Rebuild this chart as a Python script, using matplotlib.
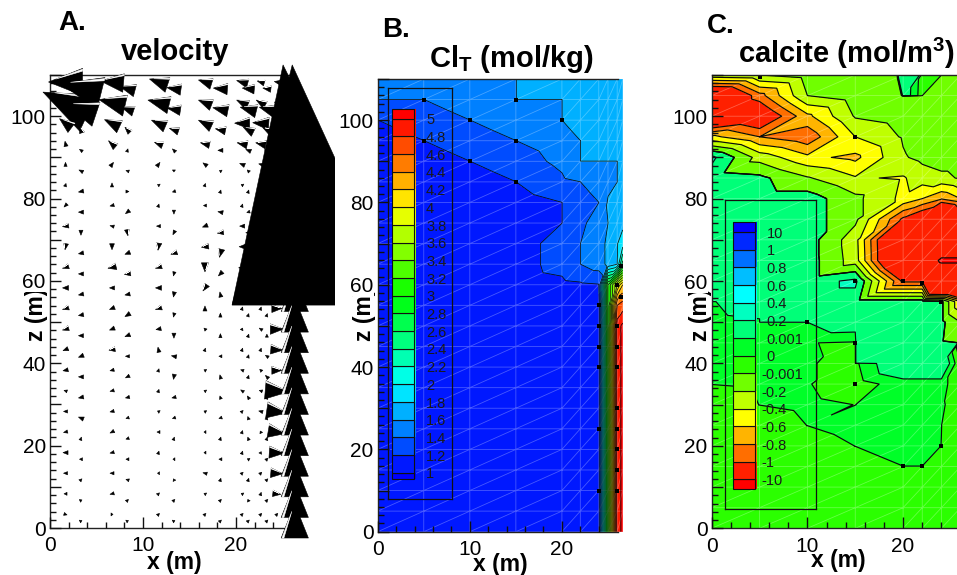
import matplotlib
matplotlib.use('Agg')
import matplotlib.pyplot as plt
import matplotlib.tri as mtri
import numpy as np

from matplotlib.collections import PolyCollection
from matplotlib.colors import BoundaryNorm, LinearSegmentedColormap, ListedColormap
from matplotlib.patches import Rectangle
from matplotlib.ticker import FixedLocator, FuncFormatter, NullLocator

plt.rcParams['font.family'] = ['Liberation Sans', 'DejaVu Sans']
plt.rcParams['mathtext.fontset'] = 'custom'
plt.rcParams['mathtext.bf'] = 'Liberation Sans:bold'
plt.rcParams['mathtext.rm'] = 'Liberation Sans'

W, H = 957, 575

# ---- panel A: arrows, two staggered sets of mesh centroids
xa = [1.67, 6.67, 11.67, 16.67, 20.67, 22.67]
za = [108.3, 103.3, 98.3, 93.3, 88.3, 83.3, 78.3, 73.3, 68.3, 63.3, 58.3,
      53.3, 48.3, 43.3, 38.3, 33.3, 28.3, 23.3, 18.3, 13.3, 8.3, 3.3]
ua = [[-34, -23, -18, -13, -11, -7], [-45, -26, -21, -13, -11, -9], [-12, -15, -14, -13, -15, -16],
      [-1, -7, -8, -9, -10, -10], [0, 3, 3, -4, -5, -4], [1, 0, -2, 1, -2, 0],
      [-3, -4, 1, -3, 1, 1], [-6, -4, -4, -5, -5, -3], [-1, 0, -1, -7, -6, -4],
      [-6, -8, -6, 0, -7, -5], [-6, -5, -6, -4, -5, -4], [-6, -5, -6, 0, 1, 1],
      [-6, -5, -5, -2, 1, -3], [-5, -6, -1, 1, 1, 1], [-5, -4, 1, -2, -3, -2],
      [-3, -4, 1, -2, -3, -3], [-4, -4, -2, -2, 2, -4], [-4, -4, -3, -2, 1, -1],
      [-5, -4, 1, -2, 1, 1], [-4, -4, -2, -4, 2, 2], [-3, -4, 2, -2, -2, 1], [3, 2, 2, 2, 2, 2]]
wa = [[0, 2, 6, 4, 3, 2], [21, 6, 5, 5, 5, 5], [9, 7, 6, 6, 0, 1],
      [5, 6, 3, 2, 2, 2], [4, 4, 4, 3, 2, 1], [3, 4, 1, 3, 1, 2],
      [-3, -1, 3, 0, 3, 2], [-1, 1, 0, -2, 0, 0], [-6, -6, -7, -1, 0, 0],
      [-2, -2, -2, -9, -1, 0], [0, 0, 0, -6, 0, 0], [-2, -2, -2, 5, 3, 3],
      [-2, -2, -1, 2, 2, 2], [-2, -1, 5, 3, 3, 3], [-1, -1, 3, 1, 1, 2],
      [1, -1, 3, 1, 2, 1], [0, -1, 1, 1, 2, 1], [-1, -2, 0, 0, 3, 2],
      [0, -1, 3, 0, 3, 2], [0, 0, 0, 1, 2, 2], [0, -1, 2, 1, 1, 3], [-1, 0, 2, 2, 2, 2]]

xb = [3.33, 8.33, 13.33, 18.33, 21.33, 23.33]
zb = [106.7, 101.7, 96.7, 91.7, 86.7, 81.7, 76.7, 71.7, 66.7, 61.7, 56.7,
      51.7, 46.7, 41.7, 36.7, 31.7, 26.7, 21.7, 16.7, 11.7, 6.7, 1.7]
ub = [[-40, -15, -14, -14, -12, -8], [-30, -12, -13, -15, -16, -15], [-2, -5, -9, -10, -10, -8],
      [-3, 1, -3, -5, -5, -5], [-4, -3, 0, -2, -2, -3], [-5, 3, -3, 1, 1, 1],
      [-5, -4, 0, -5, -3, -3], [0, 1, -2, -6, -5, -4], [-5, -5, -6, -2, -6, -5],
      [-5, -6, -1, -4, -5, -5], [-5, -5, -1, -1, -2, -1], [-5, -5, -1, 0, 1, 1],
      [-5, -5, 0, 0, 1, 0], [-5, -4, -5, -3, 1, -3], [-5, -4, -1, -1, 1, -3],
      [-5, -4, -4, -1, -2, 1], [-5, -3, -3, -3, -1, 1], [1, -3, 1, 1, -1, 1],
      [-3, -3, -2, -3, -2, 2], [2, -3, -1, 1, 1, 2], [2, 2, 2, 2, -1, 2], [2, 2, 2, 2, 2, 2]]
wb = [[10, 4, 2, 1, 1, 1], [10, 4, 2, 3, 4, 4], [6, 5, 3, 2, 5, 4],
      [2, 3, 3, 0, 2, 1], [2, 1, -2, 1, 2, 1], [-1, 0, -1, 3, 3, 2],
      [0, -3, -4, 1, -1, 0], [-5, -6, -4, -1, 0, 0], [-1, -2, -2, -8, -2, 0],
      [0, -1, -4, -4, 0, 0], [-1, -1, -5, 5, 2, 2], [-1, -3, -4, 4, 3, 3],
      [0, -2, -5, 4, 3, 3], [-2, 0, 1, 0, 3, 2], [0, -2, -5, 4, 3, 3],
      [-1, -1, -1, 3, 3, 3], [2, -1, -1, -1, 3, 3], [3, -1, 3, 3, 3, 3],
      [0, 0, 0, 0, 1, 2], [2, 1, 2, 3, 3, 2], [1, 2, 2, 2, 2, 2], [1, 1, 1, 2, 2, 2]]

# inflow at the right hand side
x_side = 24.4
u_side = [-5, -5, -5, -5, -5, -5, -5, -5, -5, -5, -5, 10, 13, 12, 10, 23, 20, 17, 15, 12, 8, 2]
w_side = [1, 1, 1, 1, 1, 1, 1, 1, 1, 1, 1, 0, 0, -1, 0, -2, -3, -3, -1, -1, -1, 2]
x_main = 26.33
u_main = [0, 0, 0, 0, 0, 0, 0, 0, 0, 0, 0, 0, 0, 0, 0, 0, 0, 0, 0, 0, 0, 0]
w_main = [30, 30, 30, 30, 40, 40, 40, 40, 40, 40, 34, 34, 34, 34, 34, 34, 34, 34, 34, 34, 34, 34]
x_big = [26.9, 27.4]
z_big = [83.3, 83.3]
u_big = [-34, -25]
w_big = [240, 240]
hw_big = 85

# ---- ticks, same on all three panels
x_major = [0, 10, 20]
x_minor = [2, 4, 6, 8, 12, 14, 16, 18, 22, 24]
z_major = [0, 10, 20, 30, 40, 50, 60, 70, 80, 90, 100, 110]
z_minor = [2, 4, 6, 8, 12, 14, 16, 18, 22, 24, 26, 28, 32, 34, 36, 38, 42, 44, 46, 48, 52, 54, 56, 58,
           62, 64, 66, 68, 72, 74, 76, 78, 82, 84, 86, 88, 92, 94, 96, 98, 102, 104, 106, 108]

# ---- panel B: Cl_T at the mesh nodes
x_cl = [0, 5, 10, 15, 20, 22, 24, 25, 26, 26.6]
z_nodes = [110, 105, 100, 95, 90, 85, 80, 75, 70, 65, 60, 55, 50, 45, 40, 35, 30, 25, 20, 15, 10, 5, 0]
cl = [[1.45, 1.5, 1.55, 1.599, 1.7, 1.72, 1.72, 1.72, 1.72, 1.72],
      [1.399, 1.399, 1.5, 1.599, 1.599, 1.7, 1.7, 1.7, 1.7, 1.7],
      [1.199, 1.3, 1.399, 1.5, 1.599, 1.7, 1.7, 1.7, 1.7, 1.7],
      [1.1, 1.199, 1.3, 1.399, 1.5, 1.599, 1.7, 1.7, 1.7, 1.7],
      [1.08, 1.1, 1.199, 1.3, 1.45, 1.599, 1.599, 1.599, 1.599, 1.7],
      [1.05, 1.08, 1.1, 1.199, 1.36, 1.399, 1.5, 1.55, 1.599, 1.7],
      [1.05, 1.05, 1.08, 1.1, 1.199, 1.3, 1.399, 1.62, 1.7, 1.75],
      [1.05, 1.05, 1.05, 1.1, 1.199, 1.35, 1.5, 1.599, 1.7, 1.75],
      [1.05, 1.05, 1.05, 1.12, 1.27, 1.399, 1.5, 1.65, 1.79, 1.9],
      [1.05, 1.05, 1.05, 1.12, 1.27, 1.399, 1.5, 1.65, 1.8, 2.5],
      [1.05, 1.05, 1.05, 1.1, 1.15, 1.17, 1.19, 3.0, 3.8, 4.2],
      [1.05, 1.05, 1.05, 1.05, 1.08, 1.1, 1.1, 3.0, 4.6, 4.7],
      [1.05, 1.05, 1.05, 1.05, 1.05, 1.08, 1.1, 3.0, 4.9, 5.05],
      [1.05, 1.05, 1.05, 1.05, 1.05, 1.08, 1.1, 3.0, 4.9, 5.05],
      [1.05, 1.05, 1.05, 1.05, 1.05, 1.08, 1.1, 3.0, 4.9, 5.05],
      [1.05, 1.05, 1.05, 1.05, 1.05, 1.08, 1.1, 3.0, 4.9, 5.05],
      [1.05, 1.05, 1.05, 1.05, 1.05, 1.08, 1.1, 3.0, 4.9, 5.05],
      [1.05, 1.05, 1.05, 1.05, 1.05, 1.08, 1.1, 3.0, 4.9, 5.05],
      [1.05, 1.05, 1.05, 1.05, 1.05, 1.08, 1.1, 3.0, 4.9, 5.05],
      [1.05, 1.05, 1.05, 1.05, 1.05, 1.08, 1.1, 3.0, 4.9, 5.05],
      [1.05, 1.05, 1.05, 1.05, 1.05, 1.08, 1.1, 3.0, 4.9, 5.05],
      [1.05, 1.05, 1.05, 1.05, 1.05, 1.08, 1.1, 3.0, 4.9, 5.05],
      [1.05, 1.05, 1.05, 1.05, 1.05, 1.08, 1.1, 3.0, 4.9, 5.05]]
cl_levels = [1, 1.2, 1.4, 1.6, 1.8, 2, 2.2, 2.4, 2.6, 2.8, 3, 3.2, 3.4, 3.6, 3.8, 4, 4.2, 4.4, 4.6, 4.8, 5]
cl_labels = ['1', '1.2', '1.4', '1.6', '1.8', '2', '2.2', '2.4', '2.6', '2.8', '3',
             '3.2', '3.4', '3.6', '3.8', '4', '4.2', '4.4', '4.6', '4.8', '5']
cl_mark_x = [5, 10, 15, 15, 20, 5, 10, 15, 26.4, 26, 26.4, 26, 26, 26, 26, 26, 26, 26, 26, 24, 24, 24, 24, 24, 24]
cl_mark_z = [105, 100, 95, 105, 100, 95, 90, 85, 64.5, 60, 57, 50, 45, 40, 30, 25, 20, 15, 10, 55, 50, 45, 40, 25, 10]

# ---- panel C: calcite at the mesh nodes
x_ca = [0, 5, 10, 15, 20, 22, 24, 26]
ca = [[-0.25, -0.2, -0.1, -0.08, 0.01, -0.0005, -0.0005, -0.002],
      [-1.6, -0.88, -0.2, -0.08, 0.002, -0.0006, -0.1, -0.1],
      [-1.6, -1.3, -0.65, -0.18, -0.1, -0.1, -0.1, -0.1],
      [-0.55, -0.8, -0.95, -0.4, -0.18, -0.1, -0.1, -0.1],
      [0.25, -0.28, -0.55, -0.65, -0.22, -0.15, -0.1, -0.1],
      [0.1, 0.05, -0.18, -0.38, -0.42, -0.3, -0.25, -0.18],
      [0.1, 0.1, 0.1, -0.15, -0.45, -0.6, -0.78, -0.6],
      [0.1, 0.1, 0.1, -0.15, -1.05, -1.3, -2, -1.3],
      [0.1, 0.1, 0.1, -0.32, -1.8, -2, -3, -3],
      [0.1, 0.1, 0.1, -0.3, -1.8, -5, -11, -11],
      [0.1, 0.1, 0.1, 0.25, -1.05, -1.05, -3, -3],
      [0.0009, 0.002, 0.1, 0.1, 0.1, 0.1, 0.05, -0.6],
      [0.0005, 0.0008, 0.001, 0.002, 0.1, 0.1, 0.05, -0.2],
      [0.0005, 0.0005, 0.00003, -0.0001, 0.1, 0.1, 0.02, -0.002],
      [0.0005, 0.0005, 0.00005, -0.0002, 0.0025, 0.0025, 0.0025, -0.001],
      [0.00001, 0.0001, 0.00005, -0.0005, 0.0005, 0.0005, 0.0005, -0.001],
      [-0.0005, 0.00001, 0.0002, -0.00001, 0.0005, 0.0005, 0.0002, -0.0008],
      [-0.0005, -0.0005, 0.00001, 0.0004, 0.0005, 0.0005, 0.00001, -0.0007],
      [-0.0005, -0.0005, -0.0005, 0.00001, 0.0005, 0.0005, -0.00001, -0.0006],
      [-0.0005, -0.0005, -0.0005, -0.0005, -0.00001, -0.00001, -0.00001, -0.0006],
      [-0.0005, -0.0005, -0.0005, -0.0005, -0.0005, -0.0005, -0.0005, -0.0005],
      [-0.0005, -0.0005, -0.0005, -0.0005, -0.0005, -0.0005, -0.0005, -0.0005],
      [-0.0005, -0.0005, -0.0005, -0.0005, -0.0005, -0.0005, -0.0005, -0.0005]]
ca_levels = [-10, -1, -0.8, -0.6, -0.4, -0.2, -0.001, 0, 0.001, 0.2, 0.4, 0.6, 0.8, 1, 10]
ca_labels = ['-10', '-1', '-0.8', '-0.6', '-0.4', '-0.2', '-0.001', '0', '0.001',
             '0.2', '0.4', '0.6', '0.8', '1', '10']
ca_colors = ['#ff2000', '#ff6e00', '#ffb400', '#ffff00', '#bfff00', '#70ff00', '#2bff00',
             '#00ff28', '#00ff78', '#00ffc0', '#00ffff', '#00beff', '#0070ff', '#0028ff']
ca_mark_x = [5, 15, 15, 20, 22, 24, 10, 15, 15, 24, 20, 22]
ca_mark_z = [109.5, 95, 60, 60, 59.5, 55, 50, 45, 35, 20, 15, 15]


def px_axes(fig, left, top, right, bottom):
    return fig.add_axes([left / W, 1 - bottom / H, (right - left) / W, (bottom - top) / H])


def px_text(fig, x, y, s, **kw):
    return fig.text(x / W, 1 - y / H, s, **kw)


def style_axes(ax, xmax, width_px, height_px, top_end=None):
    ax.set_xlim(0, xmax)
    ax.set_ylim(0, 110)
    ax.spines['right'].set_visible(False)
    ax.spines['bottom'].set_bounds(0, top_end if top_end else xmax)
    ax.spines['top'].set_bounds(0, top_end if top_end else xmax)
    for s in ax.spines.values():
        s.set_linewidth(1.0)
        s.set_color('#222222')
    ax.xaxis.set_major_locator(FixedLocator(x_major))
    ax.xaxis.set_minor_locator(NullLocator())
    ax.yaxis.set_major_locator(FixedLocator(z_major))
    ax.yaxis.set_minor_locator(NullLocator())
    ax.yaxis.set_major_formatter(FuncFormatter(lambda v, p: '%d' % v if int(round(v)) % 20 == 0 else ''))
    ax.tick_params(which='major', direction='in', length=0, labelsize=15)
    ax.tick_params(axis='x', which='major', pad=6)
    ax.tick_params(axis='y', which='major', pad=3)
    # inward tick marks, 11 px and 6 px long
    per_x = xmax / width_px
    per_z = 110.0 / height_px
    tick = dict(colors='#111111', linewidth=1.0, zorder=2.6, clip_on=False)
    ax.vlines(x_major, 0, 11 * per_z, **tick)
    ax.vlines(x_minor, 0, 6 * per_z, **tick)
    ax.hlines(z_major, 0, 11 * per_x, **tick)
    ax.hlines(z_minor, 0, 6 * per_x, **tick)
    ax.set_xlim(0, xmax)
    ax.set_ylim(0, 110)


def triangles_for(nx, nz):
    # lower left to upper right diagonal, as in the model mesh
    tris = []
    for j in range(nz - 1):
        for i in range(nx - 1):
            a = j * nx + i          # upper left
            b = a + 1               # upper right
            c = (j + 1) * nx + i    # lower left
            d = c + 1               # lower right
            tris.append([c, d, b])
            tris.append([c, b, a])
    return tris


def contour_panel(ax, xs, zs, vals, levels, colors, under, over, mark_x, mark_z, lw):
    xx, zz = np.meshgrid(xs, zs)
    tri = mtri.Triangulation(xx.ravel(), zz.ravel(), triangles_for(len(xs), len(zs)))
    cmap = ListedColormap(colors).with_extremes(under=under, over=over)
    norm = BoundaryNorm(levels, len(colors))
    v = np.array(vals, dtype=float).ravel()
    ax.tricontourf(tri, v, levels=levels, cmap=cmap, norm=norm, extend='both', zorder=1)
    ax.triplot(tri, color='white', lw=0.6, alpha=0.28, zorder=1.2)
    ax.tricontour(tri, v, levels=levels, colors='#0a0a0a', linewidths=lw, linestyles='solid', zorder=1.4)
    ax.scatter(mark_x, mark_z, s=7, c='black', marker='s', linewidths=0, zorder=1.6, clip_on=False)


def legend_box(fig, box, bar, edge0, step, colors, under, over, labels, lab_x, neg_x):
    left, top, right, bottom = box
    ax = px_axes(fig, left, top, right, bottom)
    ax.set_xlim(left, right)
    ax.set_ylim((edge0 - bottom) / step, (edge0 - top) / step)
    ax.patch.set_alpha(0)
    ax.set_xticks([])
    ax.set_yticks([])
    for s in ax.spines.values():
        s.set_linewidth(0.9)
        s.set_color('#111111')
    bar_left, bar_right, bar_top, bar_bottom = bar
    idx_top = (edge0 - bar_top) / step
    idx_bot = (edge0 - bar_bottom) / step
    n = len(labels)
    ys = [idx_bot] + list(range(n)) + [idx_top]
    cs = [under] + list(colors) + [over]
    for k, c in enumerate(cs):
        ax.bar((bar_left + bar_right + 2) / 2, ys[k + 1] - ys[k], bar_right + 2 - bar_left,
               bottom=ys[k], color=c, linewidth=0)
        ax.bar((bar_left + bar_right) / 2, ys[k + 1] - ys[k], bar_right - bar_left,
               bottom=ys[k], color=c, edgecolor='#111111', linewidth=0.8)
    for i, s in enumerate(labels):
        x = neg_x if s.startswith('-') else lab_x
        ax.text(x, i - 0.1, s, fontsize=10.5, ha='left', va='center', color='#1a1a1a')
    return ax


def arrow_polys(xs, zs, us, ws, sx, sz, flat_hw=None):
    polys, fc = [], []
    for x, z, u, w in zip(xs, zs, us, ws):
        length = np.hypot(u, w)
        ex, ez = u / length, w / length
        hw = max(0.4 * length, 1.5)
        tip = np.array([u / 2, w / 2])
        base = np.array([-u / 2, -w / 2])
        if flat_hw:
            side = np.array([flat_hw, 0.0])
        else:
            side = hw * np.array([-ez, ex])
        b1 = base + side
        b2 = base - side
        to_data = lambda p: (x + p[0] / sx, z + p[1] / sz)
        polys.append([to_data(tip), to_data(b1), to_data(b2)])
        fc.append('black')
        # thin open strip along one edge of the arrow head
        if 6 < length < 60:
            upper = b1 if b1[1] >= b2[1] else b2
            p0 = tip + 0.22 * (upper - tip)
            p1 = upper + 0.06 * (base - upper)
            p2 = upper + 0.2 * (base - upper)
            polys.append([to_data(p0), to_data(p1), to_data(p2)])
            fc.append('white')
    return polys, fc


fig = plt.figure(figsize=(W / 100, H / 100), dpi=100)
fig.patch.set_facecolor('white')

# panel A
ax_a = px_axes(fig, 50, 75, 301, 528)
style_axes(ax_a, 27, 251, 453, 26)
sx = (301 - 50) / 27.0
sz = (528 - 75) / 110.0
polys, fc = [], []
for i, z in enumerate(za):
    p, c = arrow_polys(xa, [z] * 6, ua[i], wa[i], sx, sz)
    polys += p
    fc += c
for i, z in enumerate(zb):
    p, c = arrow_polys(xb, [z] * 6, ub[i], wb[i], sx, sz)
    polys += p
    fc += c
p, c = arrow_polys([x_side] * 22, za, u_side, w_side, sx, sz)
polys += p
fc += c
p, c = arrow_polys([x_main] * 22, zb, u_main, w_main, sx, sz)
polys += p
fc += c
p, c = arrow_polys(x_big, z_big, u_big, w_big, sx, sz, flat_hw=hw_big)
polys += p
fc += c
arrows = PolyCollection(polys, facecolors=fc, edgecolors=fc, linewidths=0.4, zorder=3)
ax_a.add_collection(arrows)
# the source picture cuts this panel off at x = 335 px
arrows.set_clip_path(Rectangle((0, 0), 335 / W, 1, transform=fig.transFigure))

# panel B
rainbow = LinearSegmentedColormap.from_list('tec', ['#0000ff', '#00ffff', '#00ff00', '#ffff00', '#ff0000'])
cl_colors = [rainbow((a + b) / 2 / 4 - 0.25) for a, b in zip(cl_levels[:-1], cl_levels[1:])]
ax_b = px_axes(fig, 377.7, 79, 622.7, 531.7)
contour_panel(ax_b, x_cl, z_nodes, cl, cl_levels, cl_colors, '#0000ff', '#ff0000', cl_mark_x, cl_mark_z, 0.55)
style_axes(ax_b, 26.6, 245, 452.7, 26.1)

# panel C
ax_c = px_axes(fig, 711.7, 75, 957, 528.3)
contour_panel(ax_c, x_ca, z_nodes, ca, ca_levels, ca_colors, '#ff0000', '#0000ff', ca_mark_x, ca_mark_z, 0.85)
style_axes(ax_c, 25.63, 245.3, 453.3)

fig.canvas.draw()
for ax in (ax_a, ax_b, ax_c):
    for lab in ax.get_yticklabels():
        if lab.get_text() == '60':
            lab.set_bbox(dict(facecolor='white', edgecolor='none', pad=0))

# colour keys
legend_box(fig, (387.7, 88.3, 451.7, 499), (391.7, 414, 109, 479.3), 472.6, 17.7,
           cl_colors, '#0000ff', '#ff0000', cl_labels, 426, 426)
legend_box(fig, (725.3, 200, 815.7, 509.3), (732.7, 755.3, 221.7, 489.3), 479.3, 17.66,
           ca_colors, '#ff0000', '#0000ff', ca_labels, 766.7, 761.5)

# panel letters and titles
for x, y, s in [(58, 30, 'A.'), (381.7, 37, 'B.'), (706.7, 33, 'C.')]:
    px_text(fig, x, y, s, fontsize=20, fontweight='bold', ha='left', va='baseline')
px_text(fig, 175, 60, 'velocity', fontsize=21, fontweight='bold', ha='center', va='baseline')
px_text(fig, 511, 67, r'Cl$_{\mathbf{T}}$ (mol/kg)', fontsize=21, fontweight='bold', ha='center', va='baseline')
px_text(fig, 846, 63, r'calcite (mol/m$^{\mathbf{3}}$)', fontsize=21, fontweight='bold', ha='center', va='baseline')

# axis labels sit under the axes so that the 60 tick label masks their end
for x, y in [(174, 563), (500, 565), (838, 561)]:
    px_text(fig, x, y, 'x (m)', fontsize=16.5, fontweight='bold', ha='center', va='center')
for x in (37, 364, 700):
    px_text(fig, x, 314, 'z (m)', fontsize=16.5, fontweight='bold', rotation=90,
            ha='center', va='center', zorder=-1)

fig.savefig('out.png', dpi=100)
